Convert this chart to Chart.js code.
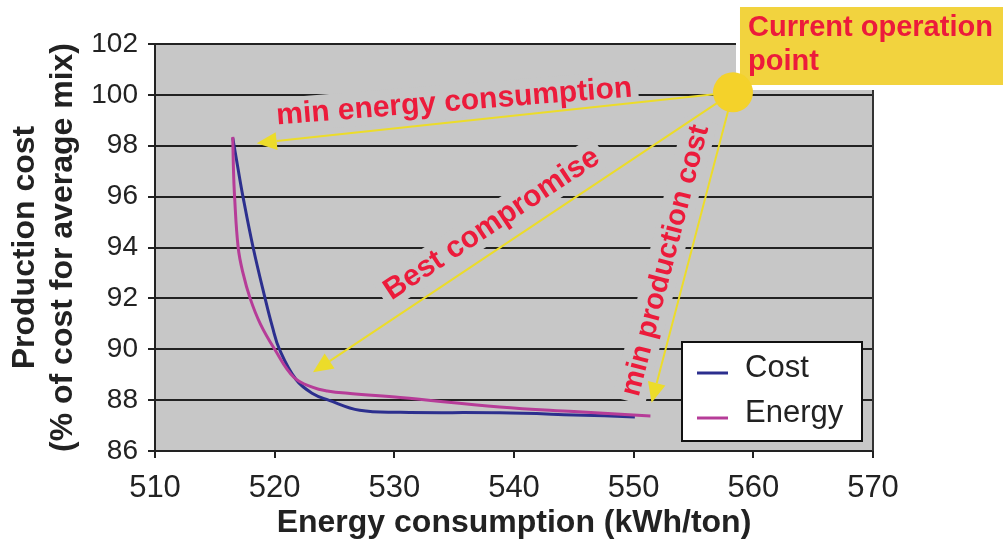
<!DOCTYPE html>
<html><head><meta charset="utf-8">
<script src="https://cdn.jsdelivr.net/npm/chart.js@4.4.0/dist/chart.umd.min.js"></script>
<style>html,body{margin:0;padding:0;background:#fff;}</style>
</head><body>
<canvas id="c" width="1003" height="545" style="width:1003px;height:545px;display:block"></canvas>
<script>
// ---- data ----
const seriesNames = ['Cost', 'Energy'];
const costX   = [516.5, 516.9, 517.35, 518.2, 519.2, 519.8, 520.4, 521.8, 523.2, 524.5, 527.1, 530.5, 538.8, 545, 550.1];
const costY   = [98.3,  97.2,  96.0,   94.0,  92.0,  90.9,  90.0,  88.8,  88.25, 88.0,  87.6,  87.52, 87.5, 87.42, 87.34];
const energyX = [516.5, 516.55, 516.65, 516.95, 517.35, 517.95, 518.8, 520.0, 521.6, 523.2, 524.4, 526.3, 530.5, 538.8, 545, 551.4];
const energyY = [98.35, 97.2,   96.0,   94.0,   93.0,   92.0,   91.0,  90.0,  88.9,  88.5,  88.36, 88.26, 88.1,  87.73, 87.55, 87.38];
const xTicks = [510, 520, 530, 540, 550, 560, 570];
const yTicks = [86, 88, 90, 92, 94, 96, 98, 100, 102];
const xTitle = 'Energy consumption (kWh/ton)';
const yTitle = ['Production cost', '(% of cost for average mix)'];
const annotationLabels = ['min energy consumption', 'Best compromise', 'min production cost'];
const calloutText = ['Current operation', 'point'];
const currentPoint = {x: 558.3, y: 100.1};
const arrowTargets = [{x: 518.5, y: 98.1}, {x: 523.2, y: 89.1}, {x: 551.5, y: 87.9}];
const labelAnchors = [{x: 535.0, y: 99.75, angle: -4.5}, {x: 538.1, y: 94.95, angle: -33.5}, {x: 552.6, y: 93.5, angle: -75.5}];

const F = '"Liberation Sans", Arial, Helvetica, sans-serif';
const PLOT_BG = '#c7c7c7';
const RED = '#ec1b3b';
const YEL = '#ecdc2a';

const toPts = (xs, ys) => xs.map((x, i) => ({x, y: ys[i]}));

const decor = {
  id: 'decor',
  beforeDraw(chart) {
    const {ctx, chartArea: a} = chart;
    ctx.save();
    ctx.fillStyle = PLOT_BG;
    ctx.fillRect(a.left, a.top, a.right - a.left, a.bottom - a.top);
    ctx.restore();
  },
  beforeDatasetsDraw(chart) {
    const {ctx, chartArea: a, scales: {x, y}} = chart;
    ctx.save();
    ctx.strokeStyle = '#333'; ctx.lineWidth = 2;
    ctx.beginPath(); ctx.moveTo(a.right, a.top); ctx.lineTo(a.right, a.bottom); ctx.stroke();
    annotationLabels.forEach((t, i) => {
      const an = labelAnchors[i];
      ctx.font = 'bold ' + (i === 2 ? 29 : 30) + 'px ' + F;
      ctx.textAlign = 'center'; ctx.textBaseline = 'middle';
      const px = x.getPixelForValue(an.x), py = y.getPixelForValue(an.y);
      const w = ctx.measureText(t).width;
      ctx.save();
      ctx.translate(px, py); ctx.rotate(an.angle * Math.PI / 180);
      ctx.fillStyle = PLOT_BG;
      ctx.fillRect(-w / 2 - 6, -17, w + 12, 34);
      ctx.fillStyle = RED;
      ctx.fillText(t, 0, 1);
      ctx.restore();
    });
    ctx.restore();
  },
  afterDatasetsDraw(chart) {
    const {ctx, chartArea: a, scales: {x, y}} = chart;
    ctx.save();
    const cx = x.getPixelForValue(currentPoint.x), cy = y.getPixelForValue(currentPoint.y);
    arrowTargets.forEach(tg => {
      const tx = x.getPixelForValue(tg.x), ty = y.getPixelForValue(tg.y);
      const ang = Math.atan2(ty - cy, tx - cx);
      const L = 20, H = 9;
      const bx = tx - L * Math.cos(ang), by = ty - L * Math.sin(ang);
      ctx.strokeStyle = YEL; ctx.lineWidth = 2;
      ctx.beginPath(); ctx.moveTo(cx, cy); ctx.lineTo(bx, by); ctx.stroke();
      ctx.fillStyle = YEL;
      ctx.beginPath();
      ctx.moveTo(tx, ty);
      ctx.lineTo(bx - H * Math.sin(ang), by + H * Math.cos(ang));
      ctx.lineTo(bx + H * Math.sin(ang), by - H * Math.cos(ang));
      ctx.closePath(); ctx.fill();
    });
    const lw = 180, lh = 99;
    const lx = a.right - 191, ly = a.bottom - 109;
    ctx.fillStyle = '#fff'; ctx.fillRect(lx, ly, lw, lh);
    ctx.strokeStyle = '#111'; ctx.lineWidth = 2; ctx.strokeRect(lx, ly, lw, lh);
    const ds = chart.data.datasets;
    ctx.font = '31px ' + F; ctx.textAlign = 'left'; ctx.textBaseline = 'middle';
    ds.forEach((d, i) => {
      const yy = ly + 26 + i * 45;
      ctx.strokeStyle = d.borderColor; ctx.lineWidth = 3;
      ctx.beginPath(); ctx.moveTo(lx + 15, yy + 5); ctx.lineTo(lx + 46, yy + 5); ctx.stroke();
      ctx.fillStyle = '#222';
      ctx.fillText(d.label, lx + 63, yy);
    });
    ctx.restore();
  },
  afterDraw(chart) {
    const {ctx, scales: {x, y}} = chart;
    ctx.save();
    const cx = x.getPixelForValue(currentPoint.x), cy = y.getPixelForValue(currentPoint.y);
    ctx.fillStyle = '#fff';
    ctx.fillRect(cx + 3, 2, chart.width - cx, 88);
    ctx.fillStyle = '#f2d33e';
    ctx.fillRect(cx + 7, 7, chart.width - cx, 78);
    ctx.fillStyle = '#f4d22a';
    ctx.beginPath(); ctx.arc(cx, cy, 20, 0, Math.PI * 2); ctx.fill();
    ctx.fillStyle = RED;
    ctx.font = 'bold 29px ' + F; ctx.textAlign = 'left'; ctx.textBaseline = 'alphabetic';
    ctx.fillText(calloutText[0], cx + 15, 36);
    ctx.fillText(calloutText[1], cx + 15, 70);
    ctx.restore();
  }
};

new Chart(document.getElementById('c'), {
  type: 'scatter',
  data: {
    datasets: [
      {label: seriesNames[0], data: toPts(costX, costY), showLine: true, borderColor: '#2c2f8e', backgroundColor: '#2c2f8e', borderWidth: 3, pointRadius: 0, tension: 0.4, order: 2},
      {label: seriesNames[1], data: toPts(energyX, energyY), showLine: true, borderColor: '#b63c98', backgroundColor: '#b63c98', borderWidth: 3, pointRadius: 0, tension: 0.4, order: 1}
    ]
  },
  options: {
    responsive: false, animation: false, devicePixelRatio: 1,
    layout: {padding: {top: 44, right: 130, left: 0, bottom: 0}},
    plugins: {legend: {display: false}, tooltip: {enabled: false}},
    scales: {
      x: {
        type: 'linear', min: 510, max: 570,
        afterBuildTicks: s => { s.ticks = xTicks.map(v => ({value: v})); },
        grid: {drawOnChartArea: false, drawTicks: true, tickLength: 7, color: '#222', lineWidth: 2},
        border: {color: '#222', width: 2},
        ticks: {font: {size: 31, family: F}, color: '#222', padding: 12, maxRotation: 0},
        title: {display: true, text: xTitle, font: {size: 32, weight: 'bold', family: F}, color: '#222', padding: {top: 0, bottom: 3}},
        afterFit: s => { s.height = 94; }
      },
      y: {
        type: 'linear', min: 86, max: 102,
        afterBuildTicks: s => { s.ticks = yTicks.map(v => ({value: v})); },
        grid: {color: '#222', lineWidth: 2, tickLength: 7},
        border: {color: '#222', width: 2},
        ticks: {font: {size: 28, family: F}, color: '#222', padding: 10},
        title: {display: true, text: yTitle, font: {size: 32, weight: 'bold', family: F, lineHeight: 1.2}, color: '#222', padding: {top: 6, bottom: 0}},
        afterFit: s => { s.width = 155; }
      }
    }
  },
  plugins: [decor]
});
</script>
</body></html>
